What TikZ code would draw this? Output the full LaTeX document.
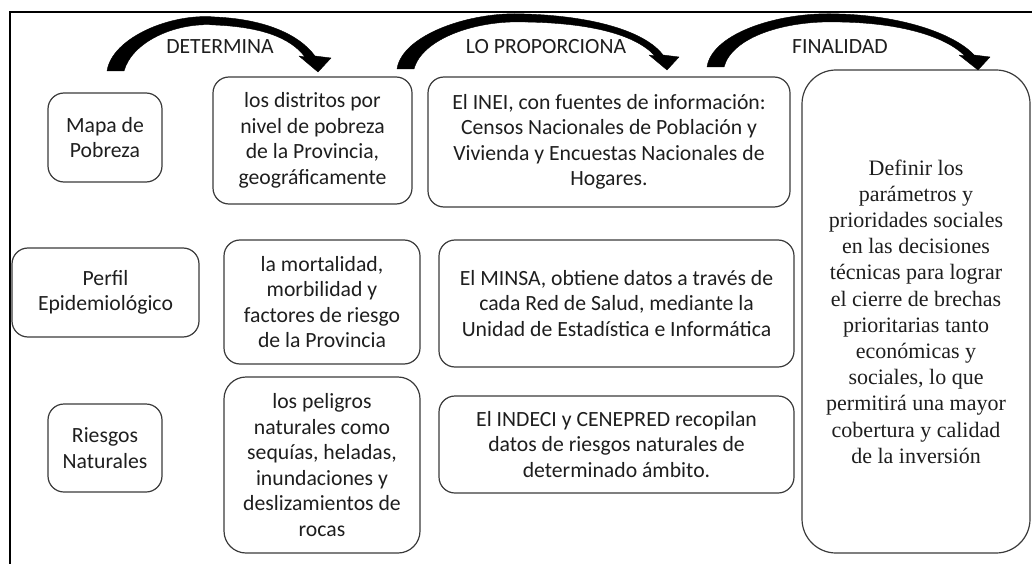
\documentclass[tikz,border=0pt]{standalone}
\usepackage{fontspec}
\setmainfont{Carlito}
\newfontfamily\serifface{Liberation Serif}
\definecolor{boxgray}{HTML}{3A3A3A}
\definecolor{txt}{HTML}{1E1E1E}
\begin{document}
\begin{tikzpicture}[x=1pt,y=-1pt,
  box/.style={draw=boxgray, line width=1.2pt, rounded corners=16pt, align=center,
     inner sep=0pt, text=txt, font=\fontsize{21.7}{25.5}\selectfont},
  headlbl/.style={text=txt, font=\fontsize{21.7}{25.5}\selectfont, inner sep=0pt},
  bigarrow/.style={fill=black, draw=black, line width=0.4pt, line join=round}]
\useasboundingbox (0,0) rectangle (1032,564);
% frame
\draw[line width=1.6pt, black] (10,564) -- (10,12) -- (1032,12);

% boxes
\node[box, minimum width=114, minimum height=89] (mapa) at (105,137.5) {Mapa de\\Pobreza};
\node[box, minimum width=199, minimum height=127] (dist) at (312.5,140.5) {los distritos por\\nivel de pobreza\\de la Provincia,\\geográficamente};
\node[box, minimum width=362, minimum height=130] (inei) at (609,142) {El INEI, con fuentes de información:\\Censos Nacionales de Población y\\Vivienda y Encuestas Nacionales de\\Hogares.};
\node[box, rounded corners=34pt, minimum width=228, minimum height=483,
      font=\serifface\fontsize{22}{26.2}\selectfont] (final) at (916,311.5)
  {Definir los\\parámetros y\\prioridades sociales\\en las decisiones\\técnicas para lograr\\el cierre de brechas\\prioritarias tanto\\económicas y\\sociales, lo que\\permitirá una mayor\\cobertura y calidad\\de la inversión};

\node[box, minimum width=187, minimum height=89] (perfil) at (105.5,292.5) {Perfil\\Epidemiológico};
\node[box, minimum width=196, minimum height=124] (mort) at (322,302) {la mortalidad,\\morbilidad y\\factores de riesgo\\de la Provincia};
\node[box, minimum width=355, minimum height=127] (minsa) at (616.5,303.5) {El MINSA, obtiene datos a través de\\cada Red de Salud, mediante la\\Unidad de Estadística e Informática};

\node[box, minimum width=114, minimum height=88] (riesgos) at (105,448) {Riesgos\\Naturales};
\node[box, rounded corners=22pt, minimum width=196, minimum height=176] (pelig) at (322,465) {los peligros\\naturales como\\sequías, heladas,\\inundaciones y\\deslizamientos de\\rocas};
\node[box, minimum width=355, minimum height=97] (indeci) at (616.5,444.5) {El INDECI y CENEPRED recopilan\\datos de riesgos naturales de\\determinado ámbito.};

% header labels
\node[headlbl] (l1) at (220,47) {DETERMINA};
\node[headlbl] (l2) at (546,47) {LO PROPORCIONA};
\node[headlbl] (l3) at (840,47) {FINALIDAD};

% curved block arrows
\fill[bigarrow] (107,71) .. controls (112,38) and (170,13) .. (215,17)
  .. controls (262,19) and (298,33) .. (315,56) -- (331,58) -- (318,72) -- (299,56) -- (305,57)
  .. controls (290,37) and (260,27) .. (215,25) .. controls (175,22) and (132,42) .. (124,71) -- cycle;
\fill[bigarrow] (397,69) .. controls (402,35) and (470,11) .. (525,14)
  .. controls (592,16) and (645,31) .. (663,55) -- (679,57) -- (667,70) -- (649,55) -- (655,56)
  .. controls (636,35) and (592,23) .. (525,22) .. controls (475,20) and (422,39) .. (414,69) -- cycle;
\fill[bigarrow] (707,67) .. controls (712,33) and (780,11) .. (840,14)
  .. controls (905,16) and (956,35) .. (974,55) -- (990,57) -- (978,70) -- (959,55) -- (965,56)
  .. controls (945,36) and (900,23) .. (840,22) .. controls (785,20) and (732,37) .. (724,67) -- cycle;
\end{tikzpicture}
\end{document}
